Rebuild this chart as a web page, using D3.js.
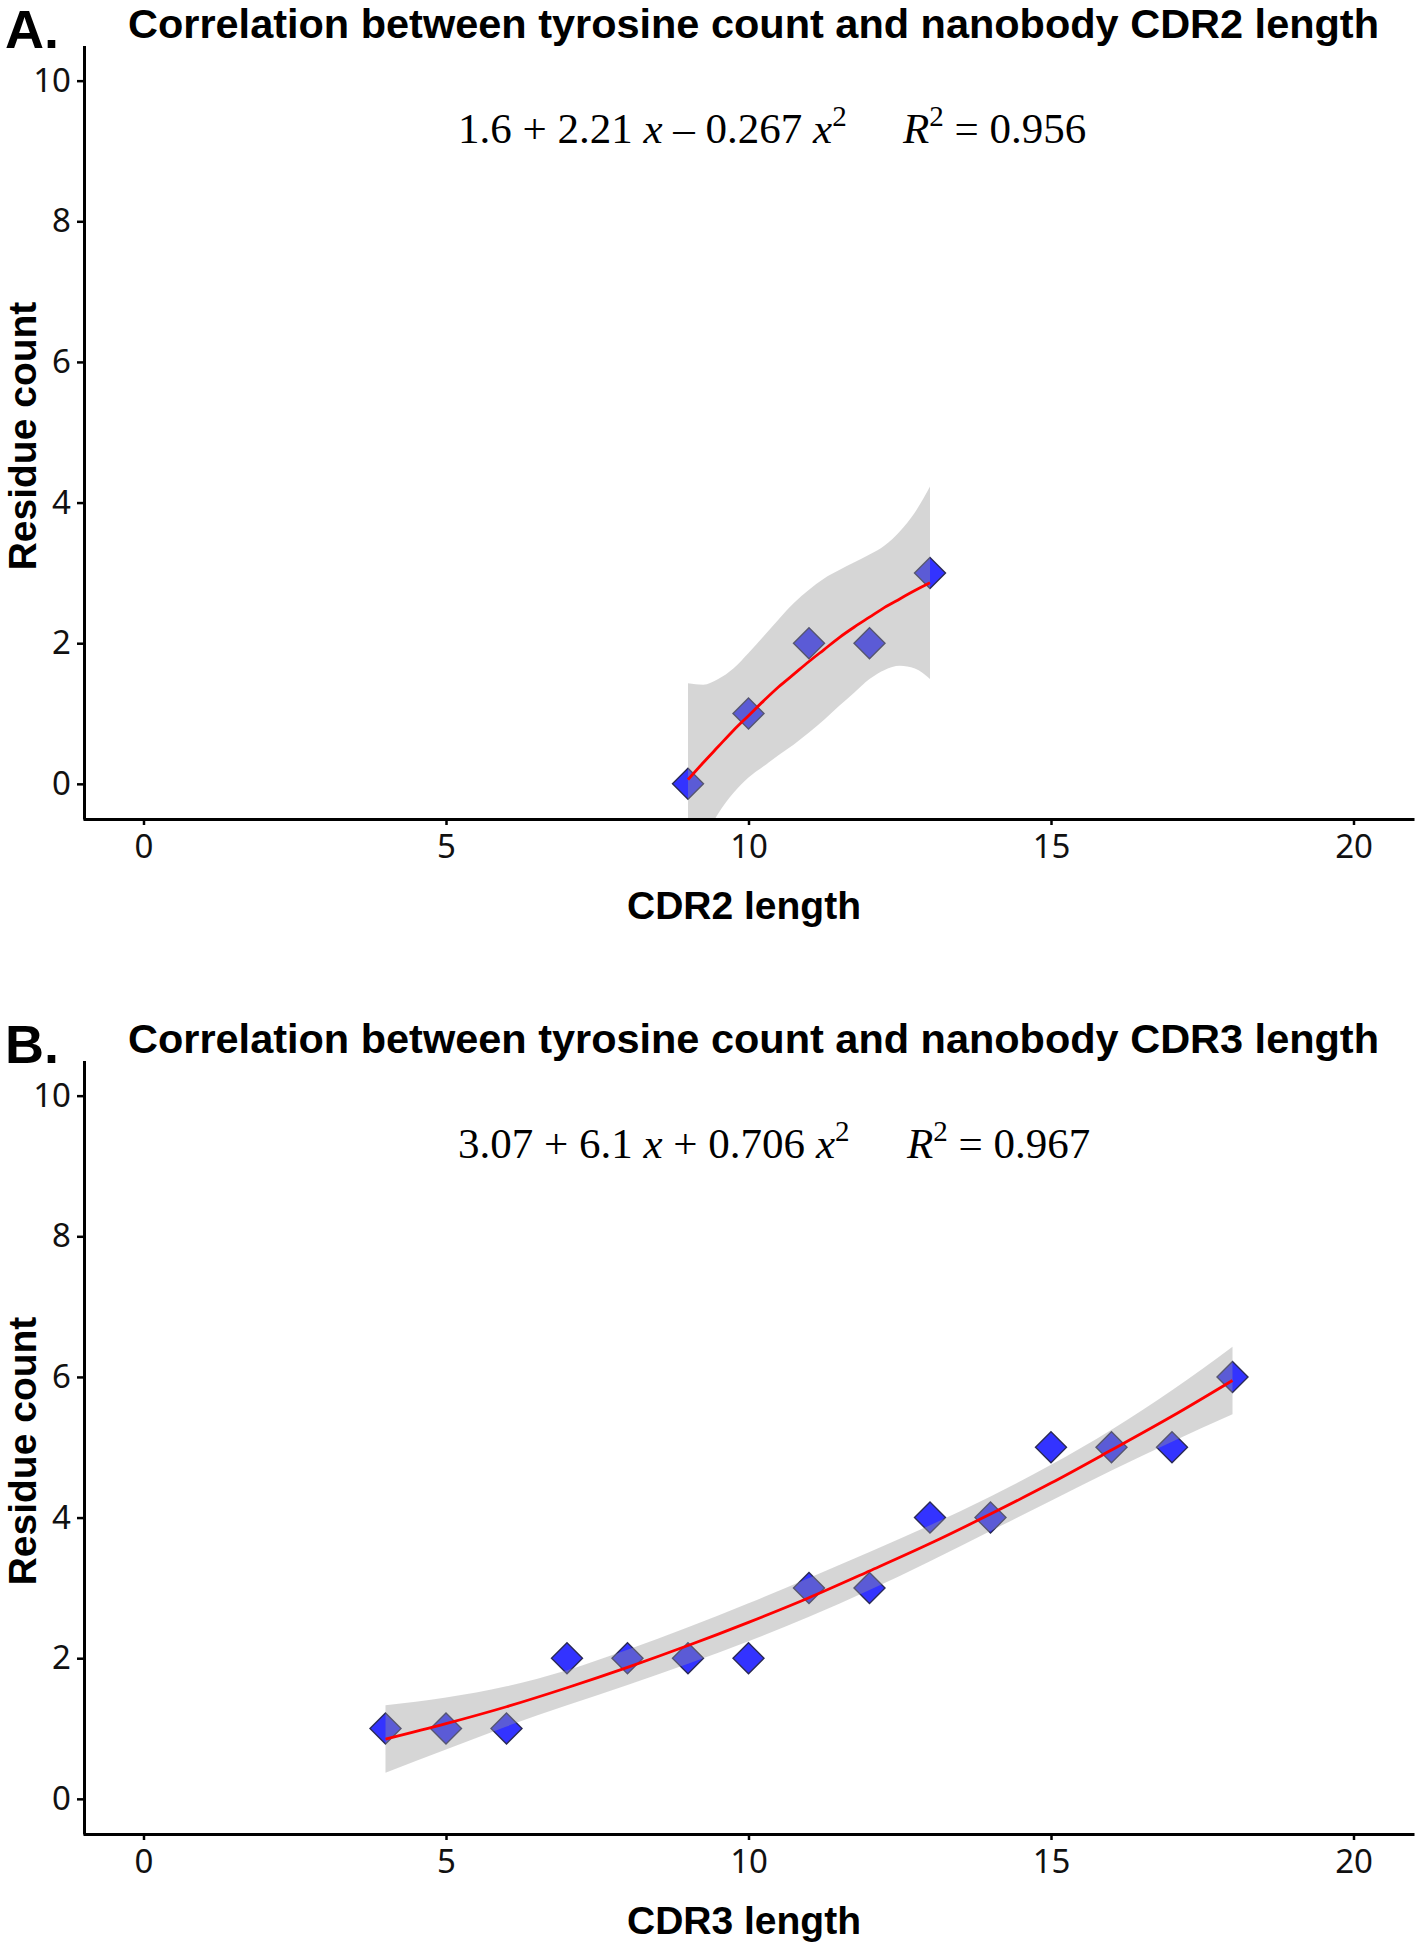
<!DOCTYPE html>
<html><head><meta charset="utf-8">
<script src="https://cdn.jsdelivr.net/npm/d3@7/dist/d3.min.js"></script>
<style>body{margin:0;background:#fff}svg{display:block}</style>
</head><body><svg id="c" width="1416" height="1943"></svg>
<script>
// ---------- data ----------
const xTickValues = [0, 5, 10, 15, 20];
const yTickValues = [0, 2, 4, 6, 8, 10];

const panelLetters = ["A.", "B."];
const panelTitles = [
  "Correlation between tyrosine count and nanobody CDR2 length",
  "Correlation between tyrosine count and nanobody CDR3 length"
];
const xAxisTitles = ["CDR2 length", "CDR3 length"];
const yAxisTitle = "Residue count";
const eqIntercepts = ["1.6", "3.07"];
const eqLinear = ["2.21", "6.1"];
const eqQuadSigns = ["\u2013", "+"];
const eqQuad = ["0.267", "0.706"];
const eqR2 = ["0.956", "0.967"];

const cdr2Length = [9, 10, 11, 12, 13];
const cdr2Count  = [0, 1, 2, 2, 3];
const cdr2FitX   = [9, 9.25, 9.5, 9.75, 10, 10.25, 10.5, 10.75, 11, 11.25, 11.5, 11.75, 12, 12.25, 12.5, 12.75, 13];
const cdr2Fit    = [0.06, 0.30, 0.53, 0.76, 0.97, 1.18, 1.38, 1.56, 1.74, 1.91, 2.08, 2.23, 2.37, 2.51, 2.63, 2.75, 2.86];
const cdr2Lower  = [-1.31, -0.82, -0.42, -0.13, 0.09, 0.25, 0.41, 0.56, 0.73, 0.91, 1.11, 1.30, 1.49, 1.62, 1.68, 1.64, 1.49];
const cdr2Upper  = [1.43, 1.41, 1.49, 1.64, 1.86, 2.10, 2.34, 2.57, 2.76, 2.92, 3.04, 3.15, 3.26, 3.39, 3.59, 3.86, 4.23];

const cdr3Length = [4, 5, 6, 7, 8, 9, 10, 11, 12, 13, 14, 15, 16, 17, 18];
const cdr3Count  = [1, 1, 1, 2, 2, 2, 2, 3, 3, 4, 4, 5, 5, 5, 6];
const cdr3FitX   = [4, 5, 6, 7, 8, 9, 10, 11, 12, 13, 14, 15, 16, 17, 18];
const cdr3Fit    = [0.85, 1.07, 1.31, 1.58, 1.87, 2.18, 2.51, 2.86, 3.24, 3.63, 4.05, 4.49, 4.96, 5.44, 5.95];
const cdr3Lower  = [0.37, 0.70, 1.03, 1.33, 1.62, 1.92, 2.24, 2.59, 2.97, 3.38, 3.81, 4.24, 4.67, 5.08, 5.47];
const cdr3Upper  = [1.33, 1.44, 1.60, 1.83, 2.12, 2.44, 2.78, 3.14, 3.51, 3.89, 4.30, 4.75, 5.25, 5.81, 6.43];

// ---------- layout ----------
const W = 1416, H = 1943;
const svg = d3.select("#c");
svg.append("rect").attr("width", W).attr("height", H).attr("fill", "#fff");

const x = d3.scaleLinear().domain([-1, 21]).range([83, 1414]);
const y = d3.scaleLinear().domain([-0.5, 10.5]).range([819, 45.5]);
const panelOffsets = [0, 1015];

const panels = [
  {pts: cdr2Length.map((v, i) => ({x: v, y: cdr2Count[i]})),
   fit: cdr2FitX.map((v, i) => ({x: v, f: cdr2Fit[i], lo: cdr2Lower[i], hi: cdr2Upper[i]}))},
  {pts: cdr3Length.map((v, i) => ({x: v, y: cdr3Count[i]})),
   fit: cdr3FitX.map((v, i) => ({x: v, f: cdr3Fit[i], lo: cdr3Lower[i], hi: cdr3Upper[i]}))}
];

const defs = svg.append("defs");
defs.append("clipPath").attr("id", "plotclip").append("rect")
  .attr("x", x.range()[0]).attr("y", y.range()[1])
  .attr("width", x.range()[1] - x.range()[0]).attr("height", y.range()[0] - y.range()[1]);

const diamond = h => `M0,${-h}L${h},0L0,${h}L${-h},0Z`;

panels.forEach((p, k) => {
  const g = svg.append("g").attr("transform", `translate(0,${panelOffsets[k]})`);

  // panel letter and title
  g.append("text").attr("x", 5).attr("y", 48)
    .attr("font-family", "'Liberation Sans', Arial, sans-serif").attr("font-weight", "bold")
    .attr("font-size", 54).attr("fill", "#000").text(panelLetters[k]);
  g.append("text").attr("x", 128).attr("y", 38)
    .attr("font-family", "'Liberation Sans', Arial, sans-serif").attr("font-weight", "bold")
    .attr("font-size", 41).attr("fill", "#000")
    .attr("textLength", 1251).attr("lengthAdjust", "spacingAndGlyphs")
    .text(panelTitles[k]);

  const plot = g.append("g").attr("clip-path", "url(#plotclip)");

  // points (drawn first; band overlays them)
  plot.selectAll("path.pt").data(p.pts).join("path")
    .attr("class", "pt")
    .attr("d", diamond(15.5))
    .attr("transform", d => `translate(${x(d.x)},${y(d.y)})`)
    .attr("fill", "#3333ff").attr("stroke", "#2a2a55").attr("stroke-width", 1.4);

  // confidence band
  const area = d3.area().x(d => x(d.x)).y0(d => y(d.lo)).y1(d => y(d.hi)).curve(d3.curveMonotoneX);
  plot.append("path").datum(p.fit).attr("d", area)
    .attr("fill", "#999999").attr("fill-opacity", 0.4);

  // fitted line
  const line = d3.line().x(d => x(d.x)).y(d => y(d.f)).curve(d3.curveMonotoneX);
  plot.append("path").datum(p.fit).attr("d", line)
    .attr("fill", "none").attr("stroke", "#ff0000").attr("stroke-width", 2.8);

  // axes
  const xa = g.append("g").attr("transform", `translate(0,${y.range()[0]})`)
    .call(d3.axisBottom(x).tickValues(xTickValues).tickSize(6).tickSizeOuter(0).tickPadding(10));
  const ya = g.append("g").attr("transform", `translate(${x.range()[0] + 1},0)`)
    .call(d3.axisLeft(y).tickValues(yTickValues).tickSize(7).tickSizeOuter(0).tickPadding(6));
  [xa, ya].forEach(a => {
    a.select(".domain").attr("stroke", "#000").attr("stroke-width", 3);
    a.selectAll(".tick line").attr("stroke", "#000").attr("stroke-width", 2.5);
    a.selectAll(".tick text").attr("font-family", "'Noto Sans', 'Open Sans', sans-serif")
      .attr("font-size", 33).attr("fill", "#111");
  });
  xa.selectAll(".tick text").attr("dy", null).attr("y", 39).attr("dominant-baseline", "alphabetic");

  // axis titles
  g.append("text").attr("x", 744).attr("y", 919).attr("text-anchor", "middle")
    .attr("font-family", "'Liberation Sans', Arial, sans-serif").attr("font-weight", "bold")
    .attr("font-size", 39).attr("fill", "#000").text(xAxisTitles[k]);
  g.append("text").attr("transform", `translate(36,436) rotate(-90)`).attr("text-anchor", "middle")
    .attr("font-family", "'Liberation Sans', Arial, sans-serif").attr("font-weight", "bold")
    .attr("font-size", 39).attr("fill", "#000").text(yAxisTitle);

  // equation label
  const eq = g.append("text").attr("x", 458).attr("y", 143)
    .attr("font-family", "'Liberation Serif', 'Times New Roman', serif")
    .attr("font-size", 43).attr("fill", "#000").style("white-space", "pre");
  eq.append("tspan").text(`${eqIntercepts[k]} + ${eqLinear[k]} `);
  eq.append("tspan").attr("font-style", "italic").text("x");
  eq.append("tspan").text(` ${eqQuadSigns[k]} ${eqQuad[k]} `);
  eq.append("tspan").attr("font-style", "italic").text("x");
  eq.append("tspan").attr("font-size", 29).attr("dy", -17).text("2");

  const r2 = g.append("text").attr("x", k === 0 ? 903 : 907).attr("y", 143)
    .attr("font-family", "'Liberation Serif', 'Times New Roman', serif")
    .attr("font-size", 43).attr("fill", "#000").style("white-space", "pre");
  r2.append("tspan").attr("font-style", "italic").text("R");
  r2.append("tspan").attr("font-size", 29).attr("dy", -17).text("2");
  r2.append("tspan").attr("dy", 17).text(` = ${eqR2[k]}`);
});
</script>
</body></html>
